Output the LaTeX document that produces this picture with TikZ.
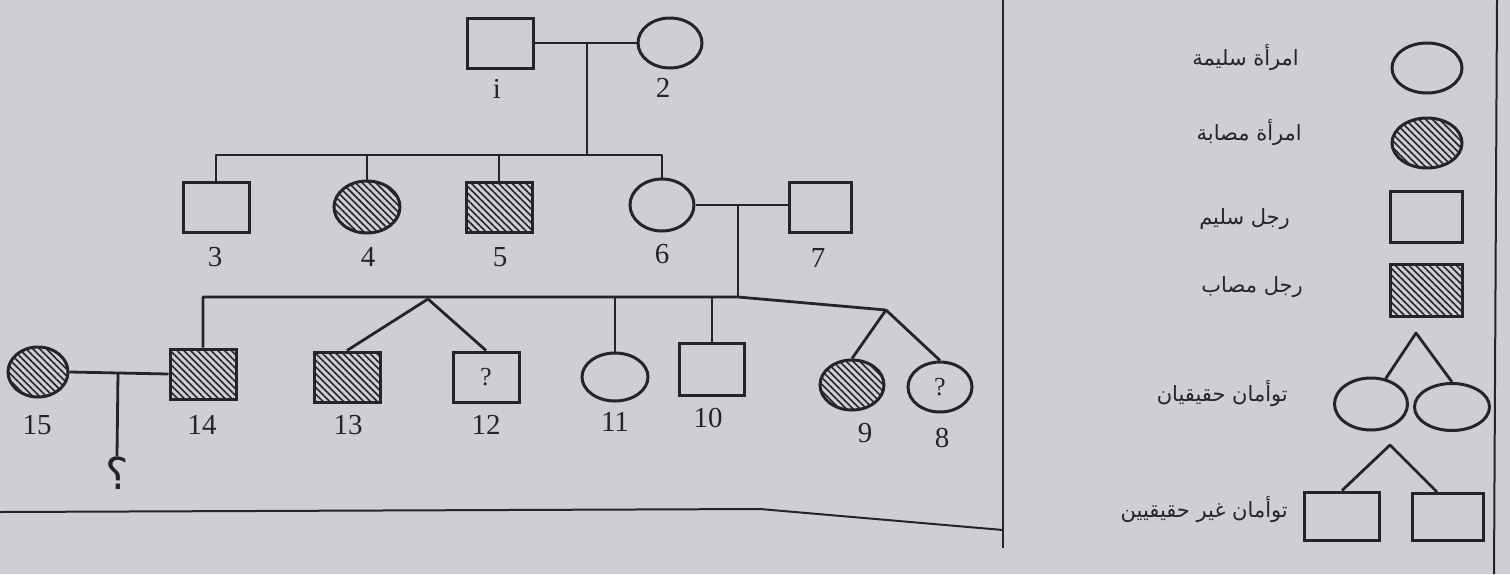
\documentclass[tikz,border=0pt]{standalone}
\usepackage{fontspec}
\setmainfont{Liberation Serif}
\newfontfamily\arabicfont[Script=Arabic]{DejaVu Sans}
\TeXXeTstate=1
\usetikzlibrary{shapes.geometric,patterns.meta}
\definecolor{paper}{RGB}{208,206,210}
\definecolor{ink}{RGB}{38,36,40}
\begin{document}
\begin{tikzpicture}[x=1pt,y=-1pt,
  ln/.style={draw=ink,line width=3pt},
  male/.style={ln,rectangle,minimum width=66pt,minimum height=50pt,inner sep=0pt},
  female/.style={ln,ellipse,minimum width=64pt,minimum height=50pt,inner sep=0pt},
  aff/.style={pattern={Lines[angle=-45,distance=4.8pt,line width=1.6pt]},pattern color=ink},
  num/.style={font=\fontsize{29}{31}\selectfont,text=ink},
  ar/.style={font=\arabicfont\fontsize{21}{23}\selectfont,text=ink,anchor=east,inner sep=0pt},
  conn/.style={draw=ink,line width=2.8pt,line join=round},
  frame/.style={draw=ink,line width=2pt}]
\fill[paper] (0,0) rectangle (1510,574);
\useasboundingbox (0,0) rectangle (1510,574);
% frame lines
\coordinate (fa) at (1003,0); \coordinate (fb) at (1003,548);
\coordinate (fc) at (1497,0); \coordinate (fd) at (1494,574);
\coordinate (fe) at (0,512); \coordinate (ff) at (760,509); \coordinate (fg) at (1003,530);
\draw[frame] (fa) -- (fb);
\draw[frame] (fc) -- (fd);
\draw[frame] (fe) -- (ff) -- (fg);
% generation I
\node[male] (n1) at (500,43) {};
\node[female] (n2) at (670,43) {};
\node[num] (l1) at (497,89) {i};
\node[num] (l2) at (663,88) {2};
\coordinate (m12) at (587,43);
\coordinate (s1) at (587,155);
\draw[conn] (n1.east) -- (n2.west);
\draw[conn] (m12) -- (s1);
% generation II
\node[male] (n3) at (216,207) {};
\node[female,aff,minimum width=66pt,minimum height=52pt] (n4) at (367,207) {};
\node[male,aff] (n5) at (499,207) {};
\node[female,minimum height=52pt] (n6) at (662,205) {};
\node[male,minimum width=62pt] (n7) at (820,207) {};
\foreach \i/\x/\y in {3/215/257,4/368/257,5/500/257,6/662/254,7/818/258}
  \node[num] (l\i) at (\x,\y) {\i};
\draw[conn] (n3.north) |- (s1) -| (n6.north);
\draw[conn] (n4.north) -- (n4.north |- s1);
\draw[conn] (n5.north) -- (n5.north |- s1);
\coordinate (m67) at (738,205);
\coordinate (s2) at (738,297);
\draw[conn] (n6.east) -- (n6.east -| n7.west);
\draw[conn] (m67) -- (s2);
% generation III
\node[male,aff] (n14) at (203,374) {};
\node[male,aff] (n13) at (347,377) {};
\node[male] (n12) at (486,377) {\fontsize{26}{28}\selectfont\color{ink}?};
\node[female,minimum width=66pt,minimum height=48pt] (n11) at (615,377) {};
\node[male,minimum width=65pt,minimum height=52pt] (n10) at (712,369) {};
\node[female,aff] (n9) at (852,385) {};
\node[female] (n8) at (940,387) {\fontsize{26}{28}\selectfont\color{ink}?};
\node[female,aff,minimum width=60pt] (n15) at (38,372) {};
\node[num] (l15) at (37,425) {15};
\node[num] (l14) at (202,425) {14};
\node[num] (l13) at (348,425) {13};
\node[num] (l12) at (486,425) {12};
\node[num] (l11) at (615,422) {11};
\node[num] (l10) at (708,418) {10};
\node[num] (l9) at (865,433) {9};
\node[num] (l8) at (942,438) {8};
\coordinate (tw1) at (428,299);
\coordinate (tw2) at (886,310);
\draw[conn] (n14.north) |- (s2) -- (tw2);
\draw[conn] (tw1) -- (n13.north);
\draw[conn] (tw1) -- (n12.north);
\draw[conn] (n11.north) -- (n11.north |- s2);
\draw[conn] (n10.north) -- (n10.north |- s2);
\draw[conn] (tw2) -- (n9.north);
\draw[conn] (tw2) -- (n8.north);
% generation IV
\draw[conn] (n15.east) -- (n14.west);
\coordinate (m1415) at (118,373);
\node[font=\arabicfont\fontsize{44}{46}\selectfont,text=ink,inner sep=0pt] (q) at (117,473) {؟};
\draw[conn] (m1415) -- (q.north);
% legend
\node[female,minimum width=70pt,minimum height=50pt] (k1) at (1427,68) {};
\node[female,aff,minimum width=70pt,minimum height=50pt] (k2) at (1427,143) {};
\node[male,minimum width=72pt,minimum height=51pt] (k3) at (1426,217) {};
\node[male,aff,minimum width=72pt,minimum height=52pt] (k4) at (1426,290) {};
\node[female,minimum width=73pt,minimum height=52pt] (k5) at (1371,404) {};
\node[female,minimum width=75pt,minimum height=47pt] (k6) at (1452,407) {};
\node[male,minimum width=75pt,minimum height=48pt] (k7) at (1342,516) {};
\node[male,minimum width=71pt,minimum height=47pt] (k8) at (1448,517) {};
\coordinate (kt1) at (1416,333);
\coordinate (kt2) at (1390,445);
\draw[conn] (k5.60) -- (kt1) -- (k6.north);
\draw[conn] (k7.north) -- (kt2) -- (k8.north west -| 1437,0);
\node[ar] (t1) at (1299,58) {\beginR امرأة سليمة\endR};
\node[ar] (t2) at (1302,133) {\beginR امرأة مصابة\endR};
\node[ar] (t3) at (1290,219) {\beginR رجل سليم\endR};
\node[ar] (t4) at (1303,287) {\beginR رجل مصاب\endR};
\node[ar] (t5) at (1288,394) {\beginR توأمان حقيقيان\endR};
\node[ar] (t6) at (1288,510) {\beginR توأمان غير حقيقيين\endR};
\end{tikzpicture}
\end{document}
